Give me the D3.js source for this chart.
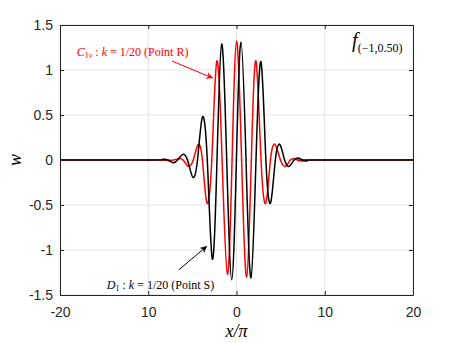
<!DOCTYPE html>
<html>
<head>
<meta charset="utf-8">
<script src="https://cdn.jsdelivr.net/npm/d3@7"></script>
<style>
  body { margin: 0; background: #fff; }
  svg { display: block; }
</style>
</head>
<body>
<div id="chart"></div>
<script>
/* CONSTANTS AND GLOBALS */
const width = 457;
const height = 343;
const margin = { top: 25, right: 44, bottom: 48, left: 60 };

// ticks
const xTicks = [-20, -10, 0, 10, 20];
const xTickLabels = ["-20", "10", "0", "10", "20"];
const yTicks = [-1.5, -1, -0.5, 0, 0.5, 1, 1.5];
const yTickLabels = ["-1.5", "-1", "-0.5", "0", "0.5", "1", "1.5"];

// D1 : k = 1/20 (Point S)  -- black
const blackX = [-20, -9.4, -8.3, -7.75, -7.2, -6.67, -6.14, -5.55, -4.96, -4.42, -3.88, -3.31, -2.74, -2.21,
  -1.68, -1.11, -0.54, -0.01, 0.51, 1.08, 1.64, 2.21, 2.78, 3.33, 3.88, 4.4, 4.93, 5.45, 5.98, 6.54,
  7.1, 7.52, 7.95, 8.6, 20];
const blackW = [0, 0, 0.01, 0, -0.03, 0, 0.06, 0, -0.19, 0, 0.47, 0, -1.1, 0,
  1.29, 0, -1.33, 0, 1.31, 0, -1.31, 0, 1.09, 0, -0.47, 0, 0.17, 0, -0.07, 0,
  0.02, 0, -0.01, 0, 0];

// C1v : k = 1/20 (Point R)  -- red
const redX = [-20, -8.8, -7.7, -7.15, -6.6, -6.05, -5.48, -4.9, -4.36, -3.86, -3.37, -2.8, -2.23, -1.63,
  -1.03, -0.5, 0.01, 0.58, 1.15, 1.68, 2.21, 2.78, 3.34, 3.85, 4.38, 4.98, 5.58, 6.1,
  6.62, 7.0, 7.4, 8.2, 20];
const redW = [0, 0, -0.01, 0, 0.015, 0, -0.07, 0, 0.17, 0, -0.47, 0, 1.1, 0,
  -1.27, 0, 1.32, 0, -1.3, 0, 1.1, 0, -0.47, 0, 0.17, 0, -0.07, 0,
  0.012, 0, -0.01, 0, 0];

const axisColor = "#262626";
const gridColor = "#e3e3e3";

/* SCALES */
const xScale = d3.scaleLinear()
  .domain([-20, 20])
  .range([margin.left, width - margin.right]);

const yScale = d3.scaleLinear()
  .domain([-1.5, 1.5])
  .range([height - margin.bottom, margin.top]);

/* HTML ELEMENTS */
const svg = d3.select("#chart")
  .append("svg")
  .attr("width", width)
  .attr("height", height);

// grid
svg.append("g")
  .selectAll("line")
  .data(xTicks)
  .join("line")
  .attr("x1", d => xScale(d)).attr("x2", d => xScale(d))
  .attr("y1", yScale(-1.5)).attr("y2", yScale(1.5))
  .attr("stroke", gridColor).attr("stroke-width", 1);

svg.append("g")
  .selectAll("line")
  .data(yTicks)
  .join("line")
  .attr("y1", d => yScale(d)).attr("y2", d => yScale(d))
  .attr("x1", xScale(-20)).attr("x2", xScale(20))
  .attr("stroke", gridColor).attr("stroke-width", 1);

// curves
const line = d3.line()
  .x(d => xScale(d[0]))
  .y(d => yScale(d[1]))
  .curve(d3.curveNatural);

const redData = redX.map((x, i) => [x, redW[i]]);
const blackData = blackX.map((x, i) => [x, blackW[i]]);

svg.append("path")
  .datum(redData)
  .attr("d", line)
  .attr("fill", "none")
  .attr("stroke", "#ff0000")
  .attr("stroke-width", 1.5);

svg.append("path")
  .datum(blackData)
  .attr("d", line)
  .attr("fill", "none")
  .attr("stroke", "#000000")
  .attr("stroke-width", 1.5);

// axes (inward ticks, box)
const tickFont = "'Liberation Sans', Arial, Helvetica, sans-serif";

const xBottom = svg.append("g")
  .attr("transform", `translate(0,${yScale(-1.5)})`)
  .call(d3.axisBottom(xScale).tickValues(xTicks).tickSizeInner(-4).tickSizeOuter(0)
    .tickPadding(12).tickFormat((d, i) => xTickLabels[i]));
const xTop = svg.append("g")
  .attr("transform", `translate(0,${yScale(1.5)})`)
  .call(d3.axisTop(xScale).tickValues(xTicks).tickSizeInner(-4).tickSizeOuter(0).tickFormat(""));
const yLeft = svg.append("g")
  .attr("transform", `translate(${xScale(-20)},0)`)
  .call(d3.axisLeft(yScale).tickValues(yTicks).tickSizeInner(-4).tickSizeOuter(0)
    .tickPadding(7).tickFormat((d, i) => yTickLabels[i]));
const yRight = svg.append("g")
  .attr("transform", `translate(${xScale(20)},0)`)
  .call(d3.axisRight(yScale).tickValues(yTicks).tickSizeInner(-4).tickSizeOuter(0).tickFormat(""));

[xBottom, xTop, yLeft, yRight].forEach(g => {
  g.select(".domain").attr("stroke", axisColor);
  g.selectAll(".tick line").attr("stroke", axisColor);
  g.selectAll(".tick text")
    .attr("fill", axisColor)
    .style("font-family", tickFont)
    .style("font-size", "14px");
});

// axis labels
const mathFont = "'Liberation Serif', 'Times New Roman', serif";

svg.append("text")
  .attr("x", xScale(0))
  .attr("y", 337)
  .attr("text-anchor", "middle")
  .style("font-family", mathFont)
  .style("font-style", "italic")
  .style("font-size", "18px")
  .text("x/π");

svg.append("text")
  .attr("transform", `translate(21,${yScale(0)}) rotate(-90)`)
  .attr("text-anchor", "middle")
  .style("font-family", mathFont)
  .style("font-style", "italic")
  .style("font-size", "18px")
  .text("w");

// f label top right
const fLab = svg.append("text")
  .attr("x", xScale(13.1))
  .attr("y", yScale(1.255))
  .style("font-family", mathFont)
  .style("font-size", "20px")
  .attr("fill", "#000");
fLab.append("tspan").style("font-style", "italic").text("f");
fLab.append("tspan").attr("dy", 5).style("font-size", "12px").text("(−1,0.50)");

// arrowheads
const defs = svg.append("defs");
[["arrRed", "#ff0000"], ["arrBlack", "#000000"]].forEach(([id, c]) => {
  defs.append("marker")
    .attr("id", id)
    .attr("viewBox", "0 0 10 10")
    .attr("refX", 10).attr("refY", 5)
    .attr("markerWidth", 9).attr("markerHeight", 7)
    .attr("markerUnits", "userSpaceOnUse")
    .attr("orient", "auto")
    .append("path")
    .attr("d", "M0,0 L10,5 L0,10 L3,5 Z")
    .attr("fill", c);
});

// red annotation
svg.append("line")
  .attr("x1", xScale(-7.31)).attr("y1", yScale(1.1))
  .attr("x2", xScale(-2.66)).attr("y2", yScale(0.91))
  .attr("stroke", "#ff0000").attr("stroke-width", 1)
  .attr("marker-end", "url(#arrRed)");

const rLab = svg.append("text")
  .attr("x", xScale(-18.1))
  .attr("y", yScale(1.155))
  .attr("fill", "#ff0000")
  .style("font-family", mathFont)
  .style("font-size", "12px");
rLab.append("tspan").style("font-style", "italic").text("C");
rLab.append("tspan").attr("dy", 2).style("font-size", "8px").text("1");
rLab.append("tspan").style("font-size", "8px").style("font-style", "italic").text("v");
rLab.append("tspan").attr("dy", -2).text(" : ");
rLab.append("tspan").style("font-style", "italic").text("k");
rLab.append("tspan").text(" = 1/20 (Point R)");

// black annotation
svg.append("line")
  .attr("x1", xScale(-6.52)).attr("y1", yScale(-1.22))
  .attr("x2", xScale(-3.34)).attr("y2", yScale(-0.956))
  .attr("stroke", "#000000").attr("stroke-width", 1)
  .attr("marker-end", "url(#arrBlack)");

const bLab = svg.append("text")
  .attr("x", xScale(-14.7))
  .attr("y", yScale(-1.43))
  .attr("fill", "#000")
  .style("font-family", mathFont)
  .style("font-size", "12px");
bLab.append("tspan").style("font-style", "italic").text("D");
bLab.append("tspan").attr("dy", 2).style("font-size", "8px").text("1");
bLab.append("tspan").attr("dy", -2).text(" : ");
bLab.append("tspan").style("font-style", "italic").text("k");
bLab.append("tspan").text(" = 1/20 (Point S)");
</script>
</body>
</html>
